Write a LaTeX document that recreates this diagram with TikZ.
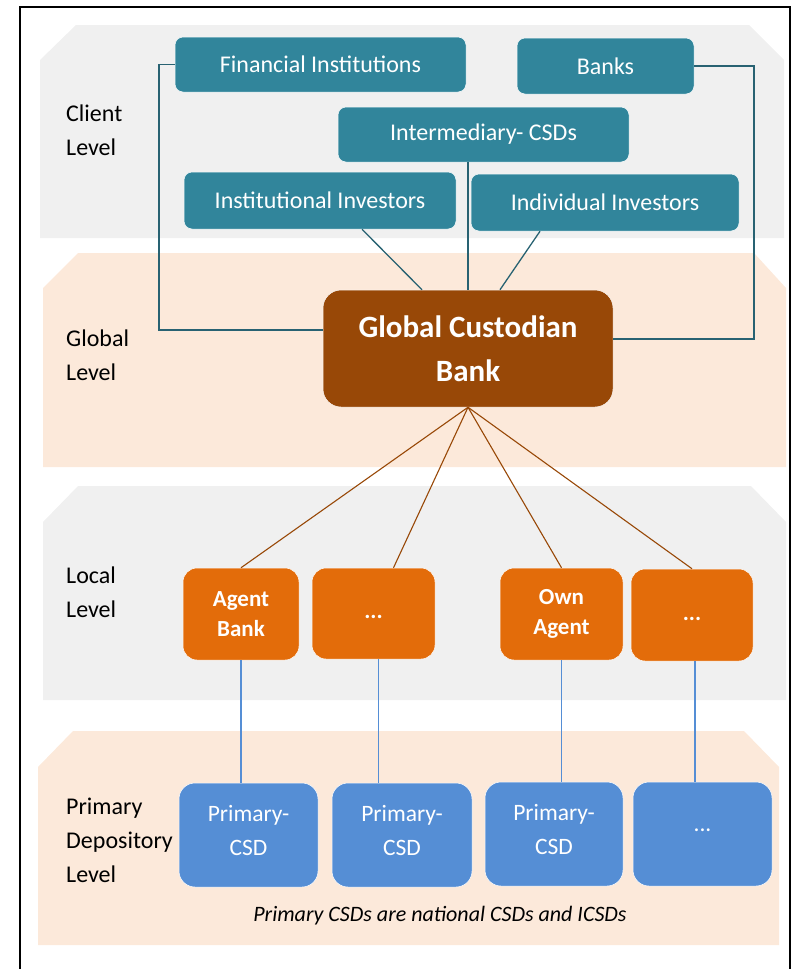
\documentclass[tikz,border=0pt]{standalone}
\usepackage{fontspec}
\setmainfont{Carlito}
\usetikzlibrary{positioning}

\definecolor{clientteal}{RGB}{49,133,155}
\definecolor{tealline}{RGB}{40,98,114}
\definecolor{custbrown}{RGB}{152,72,7}
\definecolor{agentorange}{RGB}{227,108,10}
\definecolor{csdblue}{RGB}{85,142,213}
\definecolor{bandgrey}{RGB}{240,240,240}
\definecolor{bandpeach}{RGB}{252,233,218}

\begin{document}
\begin{tikzpicture}[x=1pt, y=-1pt, inner sep=0,
    clientbox/.style={rectangle, rounded corners=8, fill=clientteal, draw=white,
      line width=0.5, text=white, font=\fontsize{24}{28}\selectfont},
    custbox/.style={rectangle, rounded corners=18, fill=custbrown, draw=white,
      line width=0.5, text=white, align=center, font=\bfseries\fontsize{31}{44}\selectfont},
    agentbox/.style={rectangle, rounded corners=14, fill=agentorange, draw=white,
      line width=0.5, text=white, align=center, font=\bfseries\fontsize{23}{30}\selectfont},
    csdbox/.style={rectangle, rounded corners=16, fill=csdblue, draw=white,
      line width=0.5, text=white, align=center, text depth=10pt,
      font=\fontsize{23.5}{34}\selectfont},
    levellabel/.style={anchor=west, align=left, font=\fontsize{24}{34}\selectfont},
    clientline/.style={draw=tealline, line width=1.3},
    custline/.style={draw=custbrown, line width=1.1},
    csdline/.style={draw=csdblue, line width=1.2}]

    \useasboundingbox (0,0) rectangle (793,969);

    % level bands
    \fill[bandgrey] (76,25) -- (749,25) -- (784,60) -- (784,238) -- (40,238) -- (40,60) -- cycle;
    \fill[bandpeach] (78,253) -- (754,253) -- (786,288) -- (786,467) -- (43,467) -- (43,288) -- cycle;
    \fill[bandgrey] (78,486) -- (751,486) -- (786,522) -- (786,700) -- (43,700) -- (43,522) -- cycle;
    \fill[bandpeach] (73,731) -- (744,731) -- (779,767) -- (779,945) -- (38,945) -- (38,767) -- cycle;

    \node[levellabel] (clientlevel) at (66,130) {Client\\Level};
    \node[levellabel] (globallevel) at (66,355) {Global\\Level};
    \node[levellabel] (locallevel) at (66,592) {Local\\Level};
    \node[levellabel] (primarylevel) at (66,840) {Primary\\Depository\\Level};

    % client level
    \node[clientbox, minimum width=291, minimum height=55] (fininst) at (320.5,64.5) {Financial Institutions};
    \node[clientbox, minimum width=177, minimum height=56] (banks) at (605.5,66) {Banks};
    \node[clientbox, minimum width=291, minimum height=55] (intercsd) at (483.5,134.5) {Intermediary- CSDs};
    \node[clientbox, minimum width=272, minimum height=57] (instinv) at (320,200.5) {Institutional Investors};
    \node[clientbox, minimum width=268, minimum height=57] (indivinv) at (605,202.5) {Individual Investors};

    % global level
    \node[custbox, minimum width=290, minimum height=117] (gcb) at (468,348.5) {Global Custodian\\Bank};

    % local level
    \node[agentbox, minimum width=116, minimum height=92] (agentbank) at (241,614) {Agent\\Bank};
    \node[agentbox, minimum width=123, minimum height=91] (agentdots) at (373.5,613.5) {\raisebox{-5pt}[0pt][0pt]{...}};
    \node[agentbox, minimum width=123, minimum height=92] (ownagent) at (561.5,614) {Own\\Agent};
    \node[agentbox, minimum width=122, minimum height=92] (owndots) at (692,615) {\raisebox{-5pt}[0pt][0pt]{...}};

    % primary depository level
    \node[csdbox, minimum width=139, minimum height=104] (csda) at (248.5,835) {Primary-\\CSD};
    \node[csdbox, minimum width=140, minimum height=104] (csdb) at (402,835) {Primary-\\CSD};
    \node[csdbox, minimum width=138, minimum height=104] (csdc) at (554,834) {Primary-\\CSD};
    \node[csdbox, minimum width=139, minimum height=104, text depth=0pt] (csdd) at (702.5,834) {\raisebox{8pt}{...}};

    \node[font=\itshape\fontsize{22}{26}\selectfont] (csdnote) at (440,916)
    {Primary CSDs are national CSDs and ICSDs};

    % connectors
    \coordinate (leftbend) at (159,330);
    \coordinate (rightbend) at (754,339);
    \draw[clientline] (fininst.west) -| (leftbend) -- (leftbend -| gcb.west);
    \draw[clientline] (banks.east) -| (rightbend) -- (rightbend -| gcb.east);
    \draw[clientline] (gcb.north) -- (gcb.north |- intercsd.south);
    \draw[clientline] ([xshift=42]instinv.south) -- ([xshift=-46]gcb.north);
    \draw[clientline] ([xshift=-65]indivinv.south) -- ([xshift=32]gcb.north);

    \draw[custline] (gcb.south) -- (agentbank.north);
    \draw[custline] (gcb.south) -- ([xshift=20]agentdots.north);
    \draw[custline] (gcb.south) -- (ownagent.north);
    \draw[custline] (gcb.south) -- (owndots.north);

    \draw[csdline] (agentbank.south) -- (agentbank.south |- csda.north);
    \draw[csdline] ([xshift=5]agentdots.south) -- ([xshift=5]agentdots.south |- csdb.north);
    \draw[csdline] (ownagent.south) -- (ownagent.south |- csdc.north);
    \draw[csdline] ([xshift=3]owndots.south) -- ([xshift=3]owndots.south |- csdd.north);

    % frame
    \draw[line width=1.5] (20,975) -- (20,7) -- (790,7) -- (790,975);

\end{tikzpicture}
\end{document}
